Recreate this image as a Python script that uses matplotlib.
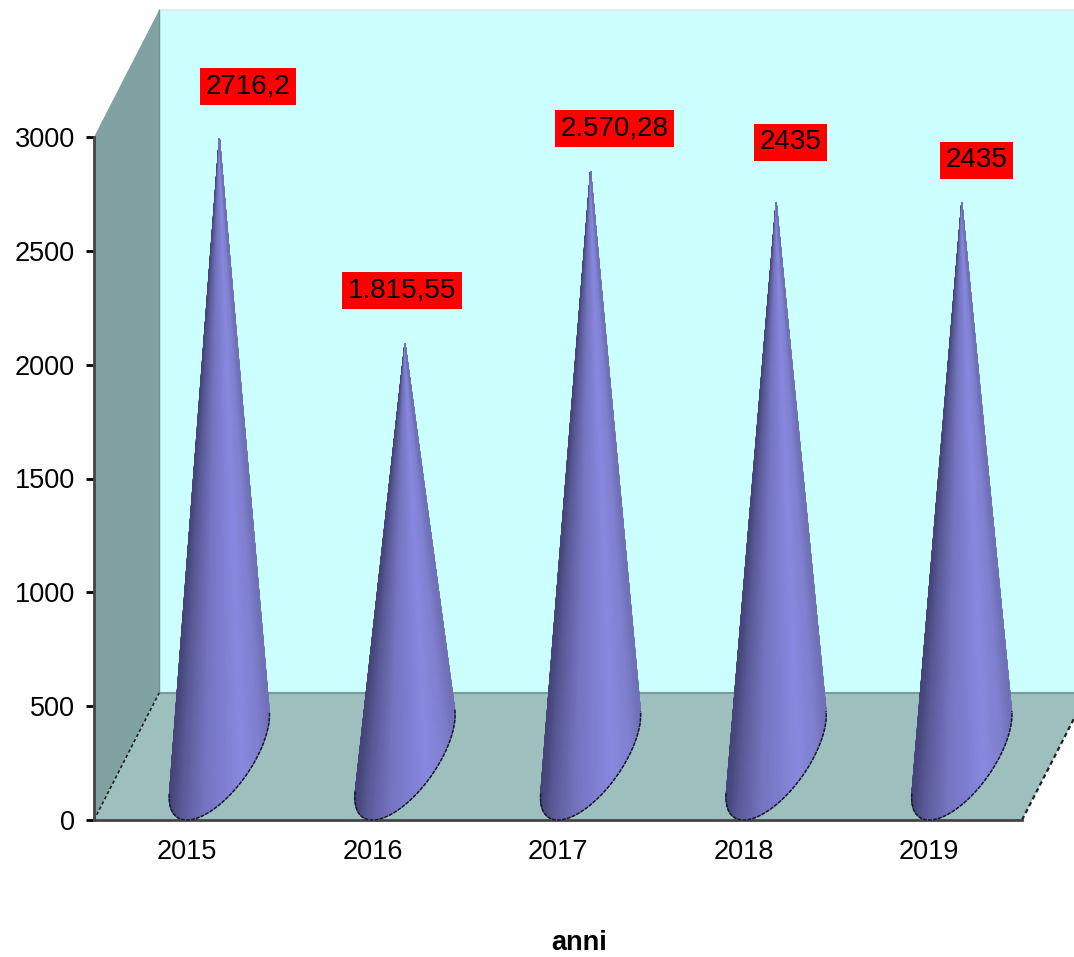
import matplotlib

matplotlib.use("Agg")
import matplotlib.pyplot as plt
import numpy as np
from matplotlib.colors import LinearSegmentedColormap
from matplotlib.patches import Polygon

plt.rcParams["font.family"] = ["Liberation Sans", "DejaVu Sans"]

YEARS = ["2015", "2016", "2017", "2018", "2019"]
VALUES = [2716.2, 1815.55, 2570.28, 2435, 2435]
VALUE_LABELS = ["2716,2", "1.815,55", "2.570,28", "2435", "2435"]
Y_TICKS = [0, 500, 1000, 1500, 2000, 2500, 3000]

# label box centre relative to the cone tip, in pixels
LABEL_OFFSETS = [(29, 52), (-3, 53), (24, 43), (14, 60), (15, 42)]

# depth of the fake 3d box, in data units
DEPTH_X = 0.351
DEPTH_Y = 558
CONE_HALF_WIDTH = 0.205

WALL_COLOR = "#CCFFFF"
SIDE_COLOR = "#80A2A2"
FLOOR_COLOR = "#9DC0BE"
EDGE_COLOR = "#7A9A98"
AXIS_COLOR = "#444444"

cone_cmap = LinearSegmentedColormap.from_list(
    "cone",
    [
        (0.0, "#45457A"),
        (0.12, "#5A5A98"),
        (0.35, "#7474C0"),
        (0.72, "#8888E0"),
        (0.9, "#8080D0"),
        (1.0, "#7070B8"),
    ],
)


def draw_box(ax):
    n = len(YEARS)
    top = Y_TICKS[-1]
    ax.add_patch(
        Polygon(
            [(DEPTH_X, DEPTH_Y), (n + DEPTH_X, DEPTH_Y), (n + DEPTH_X, top + DEPTH_Y), (DEPTH_X, top + DEPTH_Y)],
            facecolor=WALL_COLOR,
            edgecolor="none",
            clip_on=False,
            zorder=1,
        )
    )
    ax.add_patch(
        Polygon(
            [(0, 0), (DEPTH_X, DEPTH_Y), (DEPTH_X, top + DEPTH_Y), (0, top)],
            facecolor=SIDE_COLOR,
            edgecolor="none",
            clip_on=False,
            zorder=1,
        )
    )
    ax.add_patch(
        Polygon(
            [(0, 0), (n, 0), (n + DEPTH_X, DEPTH_Y), (DEPTH_X, DEPTH_Y)],
            facecolor=FLOOR_COLOR,
            edgecolor="none",
            clip_on=False,
            zorder=1,
        )
    )
    ax.plot([DEPTH_X, n + DEPTH_X], [DEPTH_Y, DEPTH_Y], color=EDGE_COLOR, linewidth=1.5, clip_on=False, zorder=1.5)
    ax.plot([DEPTH_X, n + DEPTH_X], [top + DEPTH_Y, top + DEPTH_Y], color="#E4E4E4", linewidth=1.2, clip_on=False, zorder=1.5)
    ax.plot([DEPTH_X, DEPTH_X], [DEPTH_Y, top + DEPTH_Y], color="#6F9292", linewidth=1, clip_on=False, zorder=1.5)
    for x, width in [(0, 1.2), (n, 1.6)]:
        ax.plot(
            [x, x + DEPTH_X],
            [0, DEPTH_Y],
            color="#222222",
            linewidth=width,
            linestyle=(0, (2, 1.5)),
            clip_on=False,
            zorder=1.6,
        )


def draw_cone(ax, position, value):
    cx = position + 0.5 + DEPTH_X / 2
    cy = DEPTH_Y / 2
    tip_x = cx
    tip_y = cy + value

    # base circle seen through the same shear as the floor
    t = np.linspace(-np.pi, np.pi, 1441)
    xs = cx + CONE_HALF_WIDTH * np.cos(t) + DEPTH_X / 2 * np.sin(t)
    ys = cy + DEPTH_Y / 2 * np.sin(t)
    slope = (xs - tip_x) / (tip_y - ys)
    t_left = t[np.argmin(slope)]
    t_right = t[np.argmax(slope)]

    t_arc = np.linspace(t_left, t_right, 120)
    arc_x = cx + CONE_HALF_WIDTH * np.cos(t_arc) + DEPTH_X / 2 * np.sin(t_arc)
    arc_y = cy + DEPTH_Y / 2 * np.sin(t_arc)

    # gouraud mesh from the tip down to the base arc, no seams between slices
    mesh_x = np.vstack([np.full_like(arc_x, tip_x), arc_x])
    mesh_y = np.vstack([np.full_like(arc_y, tip_y), arc_y])
    shade = (arc_x - arc_x.min()) / (arc_x.max() - arc_x.min())
    mesh_c = np.vstack([shade, shade])
    ax.pcolormesh(
        mesh_x,
        mesh_y,
        mesh_c,
        shading="gouraud",
        cmap=cone_cmap,
        vmin=0,
        vmax=1,
        clip_on=False,
        zorder=3,
    )
    ax.plot(
        arc_x,
        arc_y,
        color="#1A1A2A",
        linewidth=1.1,
        linestyle=(0, (2.5, 0.8)),
        clip_on=False,
        zorder=3.1,
    )
    return tip_x, tip_y


def main():
    fig = plt.figure(figsize=(10.74, 9.57), dpi=100)
    ax = fig.add_axes([94 / 1074, 1 - 820 / 957, 928 / 1074, 683 / 957])
    ax.patch.set_visible(False)

    draw_box(ax)

    for i, value in enumerate(VALUES):
        tip_x, tip_y = draw_cone(ax, i, value)
        off_x, off_y = LABEL_OFFSETS[i]
        ax.annotate(
            VALUE_LABELS[i],
            xy=(tip_x, tip_y),
            xytext=(off_x, off_y),
            textcoords="offset pixels",
            ha="center",
            va="center",
            fontsize=20,
            color="black",
            bbox=dict(boxstyle="square,pad=0.2", facecolor="#FF0000", edgecolor="none"),
            annotation_clip=False,
            zorder=5,
        )

    ax.set_xlim(0, len(YEARS))
    ax.set_ylim(0, Y_TICKS[-1])
    ax.set_xticks(np.arange(len(YEARS)) + 0.5)
    ax.set_xticklabels(YEARS)
    ax.set_yticks(Y_TICKS)
    ax.tick_params(axis="x", length=0, pad=14, labelsize=19.5)
    ax.tick_params(axis="y", length=6, width=2, color="black", pad=7.5, labelsize=19.5)

    ax.spines["top"].set_visible(False)
    ax.spines["right"].set_visible(False)
    for side in ["left", "bottom"]:
        ax.spines[side].set_color(AXIS_COLOR)
        ax.spines[side].set_linewidth(2)

    ax.set_xlabel("anni", fontsize=19.5, fontweight="bold", va="center")
    ax.xaxis.set_label_coords((579 - 94) / 928, -(943 - 820) / 683)

    fig.savefig("out.png", dpi=100)
    plt.close(fig)


if __name__ == "__main__":
    main()
